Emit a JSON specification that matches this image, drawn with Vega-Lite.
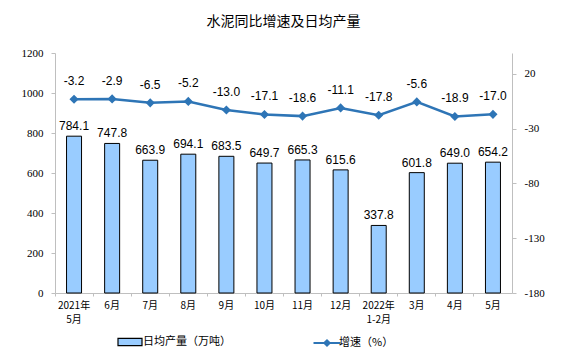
{
  "$schema": "https://vega.github.io/schema/vega-lite/v6.json",
  "autosize": {"type": "none"},
  "width": 457,
  "height": 240,
  "padding": {"left": 55, "top": 53, "right": 63, "bottom": 63},
  "background": "white",
  "title": {"text": "水泥同比增速及日均产量", "font": "Noto Sans CJK SC", "fontSize": 14, "fontWeight": "normal", "color": "#000000", "offset": 18},
  "config": {"view": {"stroke": null}, "locale": {"number": {"decimal": ".", "thousands": ",", "grouping": [3], "currency": ["", ""], "minus": "-"}}},
  "data": {"values": [
    {"m": "2021年|5月", "o": 1, "prod": 784.1, "g": -3.2},
    {"m": "6月", "o": 2, "prod": 747.8, "g": -2.9},
    {"m": "7月", "o": 3, "prod": 663.9, "g": -6.5},
    {"m": "8月", "o": 4, "prod": 694.1, "g": -5.2},
    {"m": "9月", "o": 5, "prod": 683.5, "g": -13.0},
    {"m": "10月", "o": 6, "prod": 649.7, "g": -17.1},
    {"m": "11月", "o": 7, "prod": 665.3, "g": -18.6},
    {"m": "12月", "o": 8, "prod": 615.6, "g": -11.1},
    {"m": "2022年|1-2月", "o": 9, "prod": 337.8, "g": -17.8},
    {"m": "3月", "o": 10, "prod": 601.8, "g": -5.6},
    {"m": "4月", "o": 11, "prod": 649.0, "g": -18.9},
    {"m": "5月", "o": 12, "prod": 654.2, "g": -17.0}
  ]},
  "encoding": {
    "x": {"field": "m", "type": "ordinal", "sort": {"field": "o"},
      "scale": {"paddingInner": 0, "paddingOuter": 0},
      "axis": {"title": null, "labelAngle": 0, "labelExpr": "split(datum.label, '|')", "labelFont": "Noto Sans CJK SC", "labelFontSize": 10, "labelColor": "#000000", "labelPadding": 4, "bandPosition": 0, "tickSize": 3, "tickColor": "#BFBFBF", "domainColor": "#BFBFBF", "grid": false, "labelLineHeight": 14}}
  },
  "layer": [
    {
      "encoding": {
        "y": {"field": "prod", "type": "quantitative", "scale": {"domain": [0, 1200], "nice": false},
          "axis": {"title": null, "values": [0, 200, 400, 600, 800, 1000, 1200], "tickCount": 7, "format": "d", "labelOverlap": false, "grid": false, "labelFont": "Liberation Serif", "labelFontSize": 11, "labelColor": "#000000", "domainColor": "#BFBFBF", "tickColor": "#BFBFBF", "tickSize": 4, "labelPadding": 8}}
      },
      "layer": [
        {
          "mark": {"type": "bar", "size": 15, "stroke": "#000000", "strokeWidth": 1},
          "encoding": {
            "fill": {"datum": "日均产量（万吨）", "type": "nominal", "scale": {"range": ["#99CCFF"]},
              "legend": {"title": null, "orient": "none", "legendX": 66, "legendY": 280, "symbolType": "M-1.5,-0.45H1.5V0.45H-1.5Z", "symbolSize": 256, "symbolStrokeColor": "#000000", "symbolStrokeWidth": 1.2, "labelFont": "Noto Sans CJK SC", "labelFontSize": 11, "labelColor": "#000000", "labelOffset": 4}}
          }
        },
        {
          "mark": {"type": "text", "baseline": "bottom", "dy": -3, "font": "Liberation Sans", "fontSize": 12, "color": "#000000"},
          "encoding": {
            "text": {"field": "prod", "type": "quantitative", "format": ".1f"}
          }
        }
      ]
    },
    {
      "encoding": {
        "y": {"field": "g", "type": "quantitative", "scale": {"domain": [-180, 39], "nice": false, "zero": false},
          "axis": {"title": null, "orient": "right", "values": [-180, -130, -80, -30, 20], "format": "d", "labelOverlap": false, "grid": false, "labelFont": "Liberation Serif", "labelFontSize": 11, "labelColor": "#000000", "domainColor": "#BFBFBF", "tickColor": "#BFBFBF", "tickSize": 4, "labelPadding": 8}}
      },
      "layer": [
        {
          "mark": {"type": "line", "color": "#2E75B6", "strokeWidth": 2.5, "point": {"shape": "diamond", "size": 40, "filled": true, "color": "#2E75B6"}},
          "encoding": {
            "stroke": {"datum": "增速（%）", "type": "nominal", "scale": {"range": ["#2E75B6"]},
              "legend": {"title": null, "orient": "none", "legendX": 262, "legendY": 280, "symbolType": "M-1.5,0H1.5M-0.3,0L0,-0.3L0.3,0L0,0.3Z", "symbolSize": 324, "symbolStrokeWidth": 2, "symbolFillColor": "#2E75B6", "labelFont": "Noto Sans CJK SC", "labelFontSize": 11, "labelColor": "#000000", "labelOffset": 2}}
          }
        },
        {
          "mark": {"type": "text", "baseline": "bottom", "dy": -11, "font": "Liberation Sans", "fontSize": 12, "color": "#000000"},
          "encoding": {
            "text": {"field": "g", "type": "quantitative", "format": ".1f"}
          }
        }
      ]
    }
  ],
  "resolve": {"scale": {"y": "independent"}}
}
